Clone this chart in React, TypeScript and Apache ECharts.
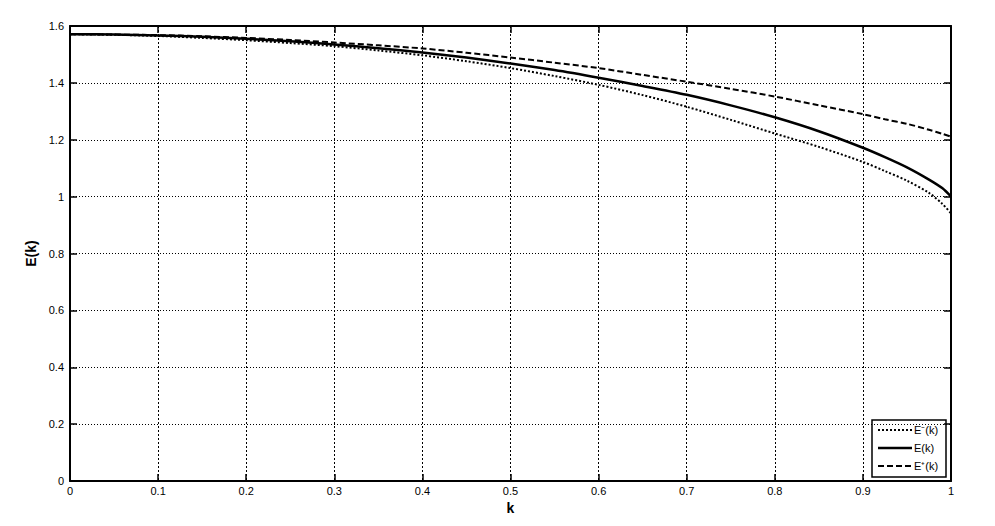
import React, { useEffect, useRef } from "react";
import * as echarts from "echarts";

const kValues = [0, 0.05, 0.1, 0.15, 0.2, 0.25, 0.3, 0.35, 0.4, 0.45, 0.5, 0.55, 0.6, 0.65, 0.7, 0.75, 0.8, 0.85, 0.9, 0.925, 0.95, 0.975, 0.99, 1.0];
const eMinus = [1.571, 1.569, 1.565, 1.558, 1.55, 1.54, 1.529, 1.514, 1.497, 1.476, 1.452, 1.424, 1.393, 1.357, 1.316, 1.27, 1.222, 1.175, 1.122, 1.09, 1.056, 1.013, 0.975, 0.941];
const eMid = [1.571, 1.57, 1.567, 1.562, 1.555, 1.546, 1.535, 1.522, 1.507, 1.489, 1.468, 1.445, 1.418, 1.389, 1.358, 1.321, 1.279, 1.23, 1.172, 1.139, 1.103, 1.06, 1.03, 1.0];
const ePlus = [1.571, 1.57, 1.568, 1.564, 1.558, 1.551, 1.542, 1.532, 1.521, 1.506, 1.489, 1.471, 1.452, 1.428, 1.404, 1.379, 1.352, 1.321, 1.29, 1.272, 1.256, 1.235, 1.221, 1.211];
const seriesNames = ["E⁻(k)", "E(k)", "E⁺(k)"];
const xAxisName = "k";
const yAxisName = "E(k)";

export default function App() {
  const ref = useRef<HTMLDivElement>(null);
  useEffect(() => {
    document.body.style.margin = "0";
    const chart = echarts.init(ref.current!, null, { renderer: "svg" });
    const font = "'Liberation Sans', Arial, Helvetica, sans-serif";
    const pair = (arr: number[]) => kValues.map((k, i) => [k, arr[i]]);
    const axisLine = { show: true, onZero: false, lineStyle: { color: "#000", width: 2 } };
    const axisTick = { show: true, inside: true, length: 7, lineStyle: { color: "#000", width: 1.5 } };
    const label = { color: "#000", fontSize: 11, fontFamily: font };
    const nameStyle = { color: "#000", fontSize: 14, fontWeight: "bold" as const, fontFamily: font };
    const styles = [
      { type: [2, 2], width: 2 },
      { type: "solid", width: 2.5 },
      { type: [6, 3], width: 2 },
    ];
    const legendX = 872, legendY = 420, legendW = 74, legendH = 57;
    const rowY = [430, 448, 466];
    chart.setOption({
      animation: false,
      backgroundColor: "#fff",
      grid: { left: 70, right: 44, top: 26, bottom: 45 },
      xAxis: [
        {
          type: "value", min: 0, max: 1, interval: 0.1, position: "bottom",
          name: xAxisName, nameLocation: "middle", nameGap: 13, nameTextStyle: nameStyle,
          axisLine, axisTick,
          axisLabel: { ...label, margin: 4 },
          splitLine: { show: true, lineStyle: { color: "#000", width: 1, type: [2, 2] } },
        },
        {
          type: "value", min: 0, max: 1, interval: 0.1, position: "top",
          axisLine, axisTick, axisLabel: { show: false }, splitLine: { show: false },
        },
      ],
      yAxis: [
        {
          type: "value", min: 0, max: 1.6, interval: 0.2, position: "left",
          name: yAxisName, nameLocation: "middle", nameGap: 24, nameTextStyle: nameStyle,
          axisLine, axisTick,
          axisLabel: { ...label, margin: 6 },
          splitLine: { show: true, lineStyle: { color: "#000", width: 1, type: [1, 2] } },
        },
        {
          type: "value", min: 0, max: 1.6, interval: 0.2, position: "right",
          axisLine, axisTick, axisLabel: { show: false }, splitLine: { show: false },
        },
      ],
      series: [eMinus, eMid, ePlus].map((arr, i) => ({
        name: seriesNames[i],
        type: "line",
        data: pair(arr),
        smooth: 0.3,
        showSymbol: false,
        symbol: "none",
        lineStyle: { color: "#000", width: styles[i].width, type: styles[i].type },
        z: 5,
      })),
      graphic: [
        {
          type: "group",
          z: 100,
          children: [
            {
              type: "rect",
              shape: { x: legendX, y: legendY, width: legendW, height: legendH },
              style: { fill: "#fff", stroke: "#000", lineWidth: 1.5 },
            },
            ...seriesNames.flatMap((n, i) => [
              {
                type: "line",
                shape: { x1: legendX + 6, y1: rowY[i], x2: legendX + 40, y2: rowY[i] },
                style: {
                  stroke: "#000",
                  lineWidth: styles[i].width,
                  lineDash: Array.isArray(styles[i].type) ? styles[i].type : null,
                },
              },
              {
                type: "text",
                x: legendX + 42,
                y: rowY[i],
                style: { text: n, fontSize: 11, fontFamily: font, fill: "#000", verticalAlign: "middle" },
              },
            ]),
          ],
        },
      ],
    });
    return () => chart.dispose();
  }, []);
  return <div ref={ref} style={{ position: "fixed", left: 0, top: 0, width: 995, height: 526 }} />;
}
